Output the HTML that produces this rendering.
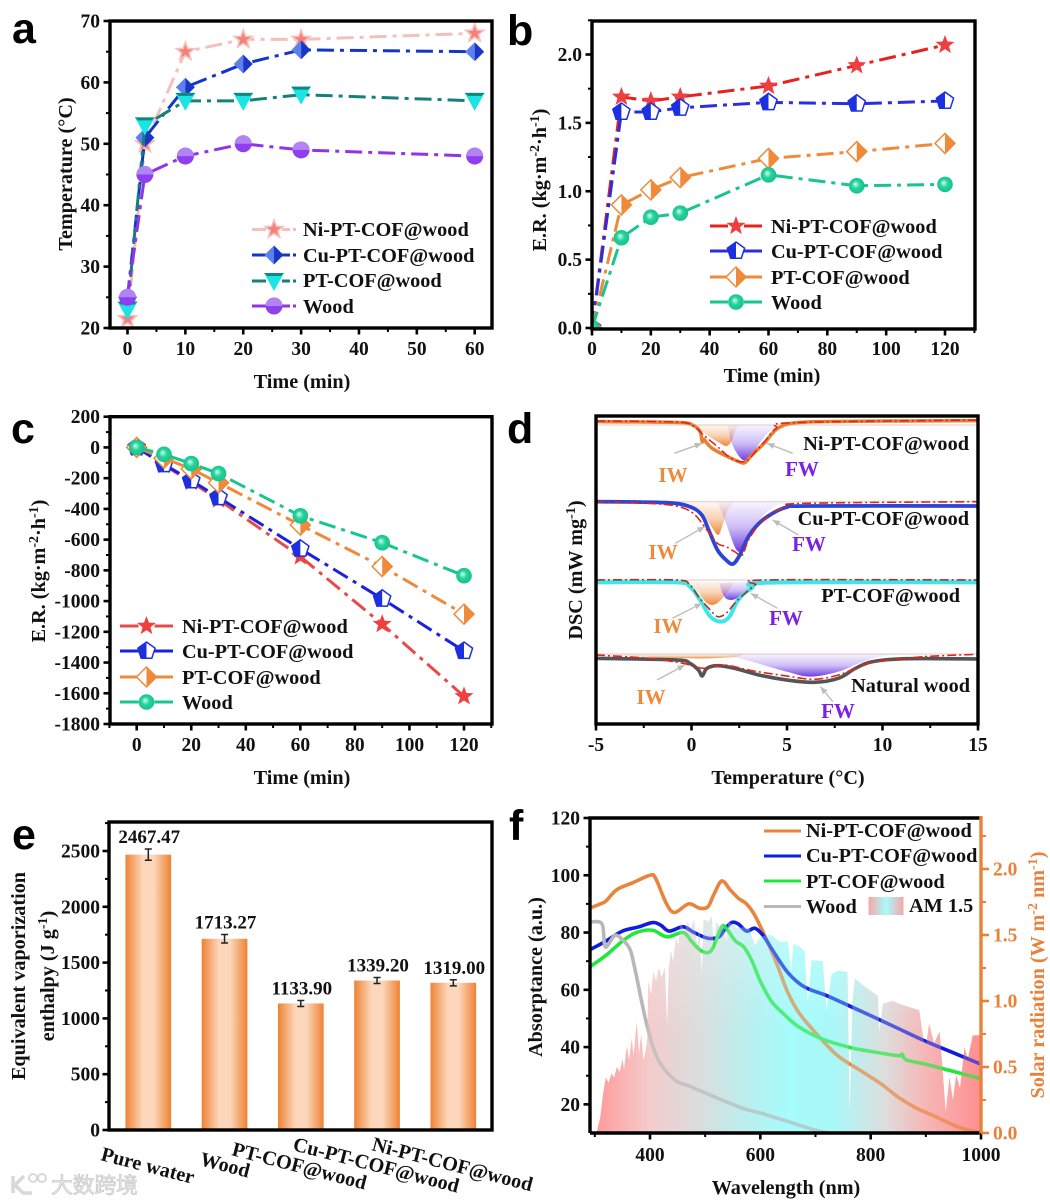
<!DOCTYPE html>
<html lang="en">
<head>
<meta charset="utf-8">
<title>Photothermal COF wood composite figure</title>
<style>
html,body{margin:0;padding:0;background:#fff;}
#figure{display:block;width:1050px;height:1204px;}
text{font-family:"Liberation Serif","Noto Serif CJK SC",serif;font-weight:700;fill:#111;}
.letter{font-family:"Liberation Sans",sans-serif;font-size:43px;fill:#000;}
.tick{font-size:19.5px;}
.title{font-size:20.2px;}
.leg{font-size:20.3px;}
.val{font-size:19px;}
.iw{font-size:21px;fill:#ee8a3a;}
.fw{font-size:21px;fill:#7a22e0;}
.sr{fill:#e8823a;}
.wm{font-family:"Noto Sans CJK SC","WenQuanYi Zen Hei",sans-serif;font-size:22px;font-weight:400;fill:#e6e6e6;stroke:#c9c9c9;stroke-width:.7;}
</style>
</head>
<body>
<svg id="figure" xmlns="http://www.w3.org/2000/svg" width="1050" height="1204" viewBox="0 0 1050 1204">
<defs>
  <linearGradient id="barGrad" x1="0" x2="1" y1="0" y2="0">
    <stop offset="0" stop-color="#ee8234"/><stop offset=".38" stop-color="#fcd7bb"/><stop offset=".62" stop-color="#fcd7bb"/><stop offset="1" stop-color="#ee8234"/>
  </linearGradient>
  <linearGradient id="iwGrad" x1="0" x2="0" y1="0" y2="1">
    <stop offset="0" stop-color="#ee8a3a" stop-opacity=".05"/><stop offset=".5" stop-color="#ee8a3a" stop-opacity=".38"/><stop offset="1" stop-color="#ee8030" stop-opacity=".95"/>
  </linearGradient>
  <linearGradient id="fwGrad" x1="0" x2="0" y1="0" y2="1">
    <stop offset="0" stop-color="#7a4be8" stop-opacity=".05"/><stop offset=".5" stop-color="#7a4be8" stop-opacity=".36"/><stop offset="1" stop-color="#6a30e0" stop-opacity=".95"/>
  </linearGradient>
  <linearGradient id="solarGrad" x1="0" x2="1" y1="0" y2="0">
    <stop offset="0" stop-color="#ff9a9a"/><stop offset=".14" stop-color="#f4cccc"/><stop offset=".26" stop-color="#dcdcdc"/><stop offset=".42" stop-color="#b4f2f2"/><stop offset=".5" stop-color="#a6fbfb"/><stop offset=".62" stop-color="#aaf8f8"/><stop offset=".75" stop-color="#dedddd"/><stop offset=".85" stop-color="#f6b8b8"/><stop offset="1" stop-color="#ff8f8f"/>
  </linearGradient>
  <linearGradient id="solarFade" gradientUnits="userSpaceOnUse" x1="0" x2="0" y1="925" y2="1030">
    <stop offset="0" stop-color="#fff" stop-opacity=".38"/><stop offset="1" stop-color="#fff" stop-opacity="0"/>
  </linearGradient>
  <linearGradient id="swatchGrad" x1="0" x2="1" y1="0" y2="0">
    <stop offset="0" stop-color="#f9a6a6"/><stop offset=".5" stop-color="#a8fbfb"/><stop offset="1" stop-color="#f9a6a6"/>
  </linearGradient>
  <radialGradient id="greenBall" cx=".5" cy=".5" r=".55" fx=".4" fy=".38">
    <stop offset="0" stop-color="#d8fff0"/><stop offset=".45" stop-color="#28d39c"/><stop offset="1" stop-color="#10c088"/>
  </radialGradient>
  <clipPath id="clipB"><rect x="592" y="21" width="383" height="308"/></clipPath>
  <clipPath id="clipF"><rect x="590" y="818" width="391" height="315"/></clipPath>
  <clipPath id="clipD"><rect x="596" y="416" width="382" height="308"/></clipPath>
</defs>

<g id="layer-a"></g>
<g id="layer-b"></g>
<g id="layer-c"></g>
<g id="layer-d"></g>
<g id="layer-e"></g>
<g id="layer-f"></g>

<!-- panel letters -->
<text class="letter" x="12" y="43">a</text>
<text class="letter" x="507" y="45">b</text>
<text class="letter" x="11" y="443">c</text>
<text class="letter" x="507" y="443">d</text>
<text class="letter" x="12" y="849">e</text>
<text class="letter" x="509" y="840">f</text>

<!-- panel a text -->
<text class="title" x="302" y="388" text-anchor="middle">Time (min)</text>
<text class="title" transform="translate(72,174) rotate(-90)" text-anchor="middle">Temperature (°C)</text>
<text class="leg" x="303" y="236">Ni-PT-COF@wood</text>
<text class="leg" x="303" y="262">Cu-PT-COF@wood</text>
<text class="leg" x="303" y="287">PT-COF@wood</text>
<text class="leg" x="303" y="313">Wood</text>

<!-- panel b text -->
<text class="title" x="772" y="382" text-anchor="middle">Time (min)</text>
<text class="title" transform="translate(546,180) rotate(-90)" text-anchor="middle">E.R. (kg·m<tspan dy="-7" font-size="14">-2</tspan><tspan dy="7">·h</tspan><tspan dy="-7" font-size="14">-1</tspan><tspan dy="7">)</tspan></text>
<text class="leg" x="771" y="233">Ni-PT-COF@wood</text>
<text class="leg" x="771" y="258">Cu-PT-COF@wood</text>
<text class="leg" x="771" y="284">PT-COF@wood</text>
<text class="leg" x="771" y="309">Wood</text>

<!-- panel c text -->
<text class="title" x="302" y="784" text-anchor="middle">Time (min)</text>
<text class="title" transform="translate(45,571) rotate(-90)" text-anchor="middle">E.R. (kg·m<tspan dy="-7" font-size="14">-2</tspan><tspan dy="7">·h</tspan><tspan dy="-7" font-size="14">-1</tspan><tspan dy="7">)</tspan></text>
<text class="leg" x="182" y="633">Ni-PT-COF@wood</text>
<text class="leg" x="182" y="658">Cu-PT-COF@wood</text>
<text class="leg" x="182" y="684">PT-COF@wood</text>
<text class="leg" x="182" y="709">Wood</text>

<!-- panel d text -->
<text class="title" x="788" y="784" text-anchor="middle">Temperature (°C)</text>
<text class="title" transform="translate(582,570) rotate(-90)" text-anchor="middle">DSC (mW mg<tspan dy="-7" font-size="14">-1</tspan><tspan dy="7">)</tspan></text>
<text class="leg" x="969" y="450" text-anchor="end">Ni-PT-COF@wood</text>
<text class="leg" x="969" y="525" text-anchor="end">Cu-PT-COF@wood</text>
<text class="leg" x="960" y="602" text-anchor="end">PT-COF@wood</text>
<text class="leg" x="970" y="692" text-anchor="end">Natural wood</text>
<text class="iw" x="673" y="482" text-anchor="middle">IW</text>
<text class="fw" x="802" y="476" text-anchor="middle">FW</text>
<text class="iw" x="663" y="559" text-anchor="middle">IW</text>
<text class="fw" x="809" y="551" text-anchor="middle">FW</text>
<text class="iw" x="668" y="633" text-anchor="middle">IW</text>
<text class="fw" x="786" y="625" text-anchor="middle">FW</text>
<text class="iw" x="651" y="704" text-anchor="middle">IW</text>
<text class="fw" x="838" y="718" text-anchor="middle">FW</text>

<!-- panel e text -->
<text class="title" transform="translate(25,976) rotate(-90)" text-anchor="middle">Equivalent vaporization</text>
<text class="title" transform="translate(54,976) rotate(-90)" text-anchor="middle">enthalpy (J g<tspan dy="-7" font-size="14">-1</tspan><tspan dy="7">)</tspan></text>
<text class="title" transform="translate(100,1160) rotate(14.5)">Pure water</text>
<text class="title" transform="translate(199,1165) rotate(14.5)">Wood</text>
<text class="title" transform="translate(231,1155) rotate(14.5)">PT-COF@wood</text>
<text class="title" transform="translate(292,1150) rotate(14.5)">Cu-PT-COF@wood</text>
<text class="title" transform="translate(371,1150) rotate(14.5)">Ni-PT-COF@wood</text>

<!-- panel f text -->
<text class="title" x="786" y="1194" text-anchor="middle">Wavelength (nm)</text>
<text class="title" transform="translate(542,977) rotate(-90)" text-anchor="middle">Absorptance (a.u.)</text>
<text class="title sr" transform="translate(1044,975) rotate(-90)" text-anchor="middle">Solar radiation (W m<tspan dy="-7" font-size="14">-2</tspan><tspan dy="7"> nm</tspan><tspan dy="-7" font-size="14">-1</tspan><tspan dy="7">)</tspan></text>
<text class="leg" x="806" y="837">Ni-PT-COF@wood</text>
<text class="leg" x="806" y="862">Cu-PT-COF@wood</text>
<text class="leg" x="806" y="888">PT-COF@wood</text>
<text class="leg" x="806" y="913">Wood</text>
<rect x="868.5" y="897" width="35" height="18" fill="url(#swatchGrad)"/>
<text class="leg" x="909" y="912">AM 1.5</text>

<!-- watermark -->
<g>
  <path d="M13 1176v17M24 1176l-9 9 8 8h9" fill="none" stroke="#d8d8d8" stroke-width="3.5"/>
  <circle cx="33" cy="1178" r="4" fill="none" stroke="#d8d8d8" stroke-width="2"/>
  <circle cx="42" cy="1178" r="4" fill="none" stroke="#d8d8d8" stroke-width="2"/>
  <text class="wm" x="51" y="1193" textLength="87">大数跨境</text>
</g>
</svg>

<script>
/* ---------- panel a data ---------- */
const aTimes = [0, 3, 10, 20, 30, 60];
const aNi = [21.5, 50, 65, 67, 67, 68];
const aCu = [25, 51, 59.2, 63, 65.3, 65];
const aPt = [23, 53, 57, 57, 58, 57];
const aWood = [25, 45, 48, 50, 49, 48];
const aXTicks = [0, 10, 20, 30, 40, 50, 60];
const aYTicks = [20, 30, 40, 50, 60, 70];

/* ---------- panel b data ---------- */
const bTimes = [0, 10, 20, 30, 60, 90, 120];
const bNi = [0, 1.69, 1.66, 1.69, 1.77, 1.92, 2.07];
const bCu = [0, 1.58, 1.58, 1.61, 1.65, 1.64, 1.66];
const bPt = [0, 0.9, 1.01, 1.1, 1.24, 1.29, 1.35];
const bWood = [0, 0.66, 0.81, 0.84, 1.12, 1.04, 1.05];
const bXTicks = [0, 20, 40, 60, 80, 100, 120];
const bYTicks = [0, 0.5, 1, 1.5, 2];
const bYLabels = ['0.0', '0.5', '1.0', '1.5', '2.0'];

/* ---------- panel c data ---------- */
const cTimes = [0, 10, 20, 30, 60, 90, 120];
const cNi = [0, -115, -225, -340, -710, -1150, -1620];
const cCu = [0, -110, -215, -325, -660, -985, -1325];
const cPt = [0, -70, -140, -230, -505, -775, -1085];
const cWood = [0, -45, -105, -170, -445, -620, -835];
const cXTicks = [0, 20, 40, 60, 80, 100, 120];
const cYTicks = [200, 0, -200, -400, -600, -800, -1000, -1200, -1400, -1600, -1800];

/* ---------- panel d data (DSC signal in arbitrary units) ---------- */
const dXTicks = [-5, 0, 5, 10, 15];
const dNiT = [-5, -2.26, -0.45, 0.09, 0.45, 0.56, 0.65, 0.81, 1.08, 1.54, 2.08, 2.53, 2.8, 3.16, 3.8, 4.52, 5.52, 8, 15];
const dNiV = [905, 904, 902, 894, 875, 845, 852, 840, 825, 810, 795, 784, 782, 805, 840, 885, 902, 906, 908];
const dNiFitT = [-5, -0.81, 0.09, 0.63, 1.36, 2.08, 2.8, 3.35, 3.89, 4.43, 5.33, 15];
const dNiFitV = [907, 904, 892, 865, 830, 795, 785, 815, 850, 885, 902, 910];
const dNiIwT = [-0.45, 0.27, 0.81, 1.36, 1.81, 2.08, 2.26, 2.53];
const dNiIwV = [895, 885, 865, 845, 832, 845, 875, 895];
const dNiFwT = [1.9, 2.08, 2.44, 2.8, 3.16, 3.62, 4.07, 4.61];
const dNiFwV = [895, 845, 805, 788, 805, 845, 875, 895];
const dCuT = [-5, -1.36, -0.09, 0.54, 0.9, 1.36, 1.81, 2.17, 2.53, 2.98, 3.53, 4.25, 4.97, 6.06, 15];
const dCuV = [665, 662, 650, 625, 580, 520, 490, 478, 505, 560, 600, 630, 648, 652, 652];
const dCuFitT = [-5, -2.26, -0.81, 0.09, 0.81, 1.36, 1.81, 2.26, 2.66, 2.98, 3.53, 4.25, 4.97, 5.88, 15];
const dCuFitV = [665, 660, 652, 630, 580, 540, 530, 515, 505, 550, 595, 630, 650, 660, 665];
const dCuIwT = [-0.45, 0.45, 0.99, 1.39, 1.63, 1.9, 2.26];
const dCuIwV = [665, 640, 595, 565, 595, 640, 665];
const dCuFwT = [1.36, 1.81, 2.26, 2.53, 2.8, 3.35, 4.07, 4.97];
const dCuFwV = [665, 600, 530, 515, 540, 595, 640, 665];
const dPtT = [-5, -0.81, -0.09, 0.45, 0.99, 1.54, 1.99, 2.44, 3.16, 4.07, 15];
const dPtV = [423, 423, 410, 370, 320, 305, 320, 370, 405, 422, 423];
const dPtFitT = [-5, -0.81, -0.09, 0.36, 0.9, 1.36, 1.81, 2.26, 2.8, 3.35, 3.89, 15];
const dPtFitV = [430, 430, 415, 380, 345, 320, 330, 360, 390, 415, 430, 430];
const dPtIwT = [-0.27, 0.27, 0.72, 1.08, 1.45, 1.9, 2.26];
const dPtIwV = [428, 400, 365, 355, 365, 395, 425];
const dPtFwT = [1.45, 1.72, 2.08, 2.53, 2.98, 3.53];
const dPtFwV = [420, 380, 370, 380, 405, 428];
const dNatT = [-5, -0.81, -0.09, 0.36, 0.56, 0.81, 1.36, 2.26, 3.53, 4.97, 6.42, 7.69, 8.59, 9.49, 11.3, 15];
const dNatV = [195, 190, 180, 160, 142, 165, 173, 165, 145, 130, 123, 135, 165, 185, 194, 193];
const dNatFitT = [-5, -2.26, -0.45, 0.63, 1.72, 3.16, 4.97, 6.42, 7.69, 8.59, 9.67, 12.2, 15];
const dNatFitV = [205, 195, 180, 165, 175, 158, 142, 132, 145, 165, 185, 200, 207];
const dNatIwT = [-5, -0.45, 2.08, 2.8];
const dNatIwV = [208, 195, 198, 208];
const dNatFwT = [1.72, 3.16, 4.97, 6.24, 7.69, 8.77, 9.86, 11.3];
const dNatFwV = [208, 185, 155, 140, 155, 180, 200, 208];
const dBaselines = [895, 665, 430, 208];

/* ---------- panel e data ---------- */
const eCategories = ['Pure water', 'Wood', 'PT-COF@wood', 'Cu-PT-COF@wood', 'Ni-PT-COF@wood'];
const eValues = [2467.47, 1713.27, 1133.9, 1339.2, 1319];
const eErrors = [50, 38, 27, 27, 27];
const eValueLabels = ['2467.47', '1713.27', '1133.90', '1339.20', '1319.00'];
const eYTicks = [0, 500, 1000, 1500, 2000, 2500];

/* ---------- panel f data ---------- */
const fXTicks = [400, 600, 800, 1000];
const fYTicks = [20, 40, 60, 80, 100, 120];
const fRightTicks = [0, 0.5, 1, 1.5, 2];
const fRightLabels = ['0.0', '0.5', '1.0', '1.5', '2.0'];
const fNiWl = [291, 310, 320, 340, 370, 400, 410, 430, 445, 470, 490, 505, 515, 530, 545, 560, 575, 590, 610, 630, 650, 670, 700, 740, 780, 820, 850, 880, 920, 960, 1000];
const fNiAbs = [88.5, 90, 91, 95, 97.5, 100, 99, 90, 87, 90, 88.5, 89, 93, 98, 95, 92, 90, 86, 78, 69, 59, 52, 45, 37, 32, 27, 22.5, 19, 15.5, 12, 10];
const fCuWl = [291, 320, 350, 380, 405, 420, 435, 460, 480, 505, 525, 535, 548, 560, 575, 590, 605, 625, 650, 680, 720, 760, 800, 850, 900, 950, 1000];
const fCuAbs = [74, 77, 80.5, 82, 83.5, 82.5, 80.5, 82, 80, 78, 78.5, 81, 83.5, 83, 80.5, 81.5, 79, 73, 66, 61, 58, 54.5, 51, 46.5, 42, 38, 34];
const fPtWl = [291, 320, 350, 375, 405, 430, 460, 475, 490, 505, 515, 530, 540, 555, 570, 585, 600, 620, 640, 670, 710, 760, 800, 850, 857, 865, 900, 950, 1000];
const fPtAbs = [68, 72, 77, 80, 80.8, 78.5, 80, 77, 74, 73, 75, 82, 81, 77, 75, 70, 63, 56, 52, 47, 43, 40, 38.5, 37, 37.5, 35.5, 34, 31.5, 29];
const fWoodWl = [291, 313, 319, 336, 350, 364, 373, 394, 415, 445, 470, 500, 567, 600, 650, 700, 725];
const fWoodAbs = [83.7, 83, 75, 79, 77.5, 74, 67, 48, 35.5, 28.5, 26.5, 24, 18.7, 17, 14, 11, 10];
const fSolarWl = [303, 310, 315, 320, 325, 330, 335, 340, 345, 350, 353, 358, 362, 367, 370, 376, 380, 384, 388, 392, 395, 397, 402, 406, 411, 416, 421, 427, 431, 434, 438, 442, 447, 451, 456, 462, 468, 474, 480, 486, 489, 494, 497, 505, 512, 516, 520, 527, 532, 538, 542, 550, 558, 570, 580, 590, 600, 610, 620, 635, 650, 656, 660, 668, 680, 686, 693, 713, 720, 729, 740, 758, 762, 767, 771, 792, 813, 816, 822, 840, 858, 888, 896, 901, 906, 915, 925, 930, 936, 943, 949, 955, 962, 970, 976, 985, 1000];
const fSolarIrr = [0, 0.12, 0.3, 0.42, 0.38, 0.45, 0.42, 0.5, 0.46, 0.56, 0.48, 0.66, 0.55, 0.72, 0.58, 0.84, 0.6, 0.75, 0.55, 0.62, 0.7, 1.15, 1.05, 1.22, 1.15, 1.25, 1.18, 1.25, 0.8, 1.25, 1.38, 1.3, 1.48, 1.42, 1.6, 1.52, 1.6, 1.55, 1.62, 1.4, 1.58, 1.2, 1.62, 1.6, 1.64, 1.35, 1.6, 1.56, 1.6, 1.45, 1.6, 1.58, 1.55, 1.56, 1.55, 1.42, 1.48, 1.5, 1.5, 1.45, 1.45, 1.22, 1.43, 1.42, 1.38, 0.98, 1.31, 1.3, 0.93, 1.2, 1.23, 1.22, 0.15, 1, 1.17, 1.1, 1.04, 0.76, 0.98, 1, 0.97, 0.93, 0.7, 0.68, 0.83, 0.68, 0.77, 0.5, 0.16, 0.42, 0.25, 0.44, 0.34, 0.65, 0.56, 0.74, 0.74];

/* ---------- helpers ---------- */
const NS = 'http://www.w3.org/2000/svg';
function mk(parent, tag, attrs) {
  const el = document.createElementNS(NS, tag);
  for (const k in attrs) el.setAttribute(k, attrs[k]);
  parent.appendChild(el);
  return el;
}
function scale(d0, p0, d1, p1) {
  return function (v) { return p0 + (v - d0) / (d1 - d0) * (p1 - p0); };
}
function linePath(xs, ys, sx, sy) {
  return xs.map(function (x, i) { return (i ? 'L' : 'M') + sx(x).toFixed(2) + ' ' + sy(ys[i]).toFixed(2); }).join('');
}
function smoothPath(xs, ys, sx, sy) {
  const p = xs.map(function (x, i) { return [sx(x), sy(ys[i])]; });
  let d = 'M' + p[0][0].toFixed(2) + ' ' + p[0][1].toFixed(2);
  for (let i = 0; i < p.length - 1; i++) {
    const a = p[Math.max(0, i - 1)], b = p[i], c = p[i + 1], e = p[Math.min(p.length - 1, i + 2)];
    const c1x = b[0] + (c[0] - a[0]) / 6, c1y = b[1] + (c[1] - a[1]) / 6;
    const c2x = c[0] - (e[0] - b[0]) / 6, c2y = c[1] - (e[1] - b[1]) / 6;
    d += 'C' + c1x.toFixed(2) + ' ' + c1y.toFixed(2) + ' ' + c2x.toFixed(2) + ' ' + c2y.toFixed(2) + ' ' + c[0].toFixed(2) + ' ' + c[1].toFixed(2);
  }
  return d;
}
function frame(g, name, x0, y0, x1, y1, color) {
  const el = mk(g, 'rect', { x: x0, y: y0, width: x1 - x0, height: y1 - y0, fill: 'none', stroke: color || '#000', 'stroke-width': 3.4 });
  
  
  return el;
}
function xTicks(g, name, sx, yBase, majors, minors, labels, labelY) {
  majors.forEach(function (v, i) {
    const t = mk(g, 'line', { x1: sx(v), x2: sx(v), y1: yBase, y2: yBase + 6.5, stroke: '#000', 'stroke-width': 2.6 });
    
    
    const l = mk(g, 'text', { x: sx(v), y: labelY, 'text-anchor': 'middle', class: 'tick' });
    l.textContent = labels[i];
    
    
  });
  minors.forEach(function (v) {
    const t = mk(g, 'line', { x1: sx(v), x2: sx(v), y1: yBase, y2: yBase + 4, stroke: '#000', 'stroke-width': 2 });
    
    
  });
}
function yTicks(g, name, sy, xBase, majors, minors, labels, labelX) {
  majors.forEach(function (v, i) {
    const t = mk(g, 'line', { x1: xBase - 6.5, x2: xBase, y1: sy(v), y2: sy(v), stroke: '#000', 'stroke-width': 2.6 });
    
    
    const l = mk(g, 'text', { x: labelX, y: sy(v) + 6.5, 'text-anchor': 'end', class: 'tick' });
    l.textContent = labels[i];
    
    
  });
  minors.forEach(function (v) {
    const t = mk(g, 'line', { x1: xBase - 4, x2: xBase, y1: sy(v), y2: sy(v), stroke: '#000', 'stroke-width': 2 });
    
    
  });
}
function pts(list, cx, cy) {
  return list.map(function (p) { return (cx + p[0]).toFixed(2) + ',' + (cy + p[1]).toFixed(2); }).join(' ');
}
function starPts(R) {
  const out = [];
  for (let i = 0; i < 10; i++) {
    const r = i % 2 ? R * 0.42 : R, a = -Math.PI / 2 + i * Math.PI / 5;
    out.push([r * Math.cos(a), r * Math.sin(a)]);
  }
  return out;
}
function marker(g, kind, cx, cy, name) {
  const m = mk(g, 'g', {});
  
  
  if (kind === 'starPale') {
    mk(m, 'polygon', { points: pts(starPts(9.5), cx, cy), fill: '#f4807a', stroke: '#f7c0bc', 'stroke-width': 1.6 });
  } else if (kind === 'starRed') {
    mk(m, 'polygon', { points: pts(starPts(10), cx, cy), fill: '#ef3f40' });
  } else if (kind === 'diamondBlue') {
    mk(m, 'polygon', { points: pts([[0, -9.5], [-9.5, 0], [0, 9.5]], cx, cy), fill: '#5c80ec' });
    mk(m, 'polygon', { points: pts([[0, -9.5], [9.5, 0], [0, 9.5]], cx, cy), fill: '#1a36c6' });
  } else if (kind === 'triCyan') {
    mk(m, 'polygon', { points: pts([[-10, -8], [10, -8], [0, 10]], cx, cy), fill: '#1ae4e4' });
    mk(m, 'polygon', { points: pts([[-10, -8], [10, -8], [6.7, -5], [-6.7, -5]], cx, cy), fill: '#11857f' });
  } else if (kind === 'circlePurple') {
    mk(m, 'circle', { cx: cx, cy: cy, r: 8.5, fill: '#8f3ef0' });
    mk(m, 'path', { d: 'M' + (cx - 8.5) + ' ' + cy + 'A8.5 8.5 0 0 1 ' + (cx + 8.5) + ' ' + cy + 'Z', fill: '#b283f2' });
  } else if (kind === 'pentagon') {
    const P = [[0, -9], [8.6, -2.8], [5.3, 7.3], [-5.3, 7.3], [-8.6, -2.8]];
    mk(m, 'polygon', { points: pts(P, cx, cy), fill: '#fff', stroke: '#1d30e0', 'stroke-width': 1.5 });
    mk(m, 'polygon', { points: pts([[0, -9], [0, 7.3], [-5.3, 7.3], [-8.6, -2.8]], cx, cy), fill: '#1d30e0' });
  } else if (kind === 'diamondOrange') {
    const D = [[0, -10], [10, 0], [0, 10], [-10, 0]];
    mk(m, 'polygon', { points: pts(D, cx, cy), fill: '#fff', stroke: '#ee8a3a', 'stroke-width': 1.5 });
    mk(m, 'polygon', { points: pts([[0, -10], [10, 0], [0, 10]], cx, cy), fill: '#ee8a3a' });
  } else if (kind === 'ballGreen') {
    mk(m, 'circle', { cx: cx, cy: cy, r: 7.8, fill: 'url(#greenBall)' });
  }
  return m;
}
function series(g, name, xs, ys, sx, sy, color, kind) {
  const l = mk(g, 'path', { d: linePath(xs, ys, sx, sy), fill: 'none', stroke: color, 'stroke-width': 3, 'stroke-dasharray': '17 6 4 6' });
  
  
  xs.forEach(function (x, i) {
    marker(g, kind, sx(x), sy(ys[i]), name + '-point');
  });
}
function legendKey(g, name, x0, x1, y, color, kind, rightDash) {
  const mid = (x0 + x1) / 2;
  const l = mk(g, 'line', { x1: x0, x2: kind ? mid - 8 : x1, y1: y, y2: y, stroke: color, 'stroke-width': 3 });
  
  
  if (kind) {
    const l2 = mk(g, 'line', { x1: mid + 8, x2: x1, y1: y, y2: y, stroke: color, 'stroke-width': 3, 'stroke-dasharray': rightDash || 'none' });
    
    
    marker(g, kind, mid, y, name + '-key-marker');
  }
}
function every(start, stop, step) {
  const out = [];
  for (let v = start; v <= stop + 1e-9; v += step) out.push(+v.toFixed(4));
  return out;
}

/* ---------- panel a ---------- */
(function () {
  const g = document.getElementById('layer-a');
  const sx = scale(0, 127.5, 60, 474.7), sy = scale(20, 328, 70, 21);
  series(g, 'a-ni', aTimes, aNi, sx, sy, '#f6bfba', 'starPale');
  series(g, 'a-cu', aTimes, aCu, sx, sy, '#1436c8', 'diamondBlue');
  series(g, 'a-pt', aTimes, aPt, sx, sy, '#14807a', 'triCyan');
  series(g, 'a-wood', aTimes, aWood, sx, sy, '#9233ea', 'circlePurple');
  frame(g, 'a', 110, 21, 492, 328);
  xTicks(g, 'a', sx, 328, aXTicks, every(5, 55, 10), aXTicks.map(String), 355);
  yTicks(g, 'a', sy, 110, aYTicks, every(25, 65, 10), aYTicks.map(String), 100);
  legendKey(g, 'a-legend-ni', 252, 296, 229.5, '#f6bfba', 'starPale', '8 3 3 30');
  legendKey(g, 'a-legend-cu', 252, 296, 255, '#1436c8', 'diamondBlue', '8 3 3 30');
  legendKey(g, 'a-legend-pt', 252, 296, 281, '#14807a', 'triCyan', '8 3 3 30');
  legendKey(g, 'a-legend-wood', 252, 296, 306, '#9233ea', 'circlePurple', '8 3 3 30');
})();

/* ---------- panel b ---------- */
(function () {
  const g0 = document.getElementById('layer-b');
  const g = mk(g0, 'g', { 'clip-path': 'url(#clipB)' });
  
  
  const sx = scale(0, 592, 120, 945), sy = scale(0, 328, 2, 54.5);
  series(g, 'b-ni', bTimes, bNi, sx, sy, '#e8211f', 'starRed');
  series(g, 'b-cu', bTimes, bCu, sx, sy, '#2a2ee0', 'pentagon');
  series(g, 'b-pt', bTimes, bPt, sx, sy, '#ee8a3a', 'diamondOrange');
  series(g, 'b-wood', bTimes, bWood, sx, sy, '#18c48f', 'ballGreen');
  frame(g0, 'b', 592, 21, 975, 329);
  xTicks(g0, 'b', sx, 329, bXTicks, every(10, 130, 20), bXTicks.map(String), 355);
  yTicks(g0, 'b', sy, 592, bYTicks, every(0.25, 2.25, 0.5), bYLabels, 582);
  legendKey(g0, 'b-legend-ni', 710, 762, 226, '#e8211f', 'starRed');
  legendKey(g0, 'b-legend-cu', 710, 762, 251, '#2a2ee0', 'pentagon');
  legendKey(g0, 'b-legend-pt', 710, 762, 277, '#ee8a3a', 'diamondOrange');
  legendKey(g0, 'b-legend-wood', 710, 762, 302, '#18c48f', 'ballGreen');
})();

/* ---------- panel c ---------- */
(function () {
  const g = document.getElementById('layer-c');
  const sx = scale(0, 136.7, 120, 464), sy = scale(200, 416.7, -1800, 724);
  series(g, 'c-ni', cTimes, cNi, sx, sy, '#e84a4a', 'starRed');
  series(g, 'c-cu', cTimes, cCu, sx, sy, '#1a22e0', 'pentagon');
  series(g, 'c-pt', cTimes, cPt, sx, sy, '#ee8a3a', 'diamondOrange');
  series(g, 'c-wood', cTimes, cWood, sx, sy, '#18c48f', 'ballGreen');
  frame(g, 'c', 110, 416.7, 492, 724);
  xTicks(g, 'c', sx, 724, cXTicks, every(-10, 130, 20), cXTicks.map(String), 751);
  yTicks(g, 'c', sy, 110, cYTicks, every(-1700, 100, 200), cYTicks.map(String), 100);
  legendKey(g, 'c-legend-ni', 120, 173, 626, '#e84a4a', 'starRed');
  legendKey(g, 'c-legend-cu', 120, 173, 651, '#1a22e0', 'pentagon');
  legendKey(g, 'c-legend-pt', 120, 173, 677, '#ee8a3a', 'diamondOrange');
  legendKey(g, 'c-legend-wood', 120, 173, 702, '#18c48f', 'ballGreen');
})();

/* ---------- panel d ---------- */
(function () {
  const g0 = document.getElementById('layer-d');
  const g = mk(g0, 'g', { 'clip-path': 'url(#clipD)' });
  
  
  const sx = scale(-5, 596, 15, 978), sy = scale(0, 723.3, 922, 416);
  function area(name, ts, vs, fill) {
    const el = mk(g, 'path', { d: smoothPath(ts, vs, sx, sy) + 'Z', fill: fill });
    
    
  }
  function curve(name, ts, vs, color, width, dash) {
    const el = mk(g, 'path', { d: smoothPath(ts, vs, sx, sy), fill: 'none', stroke: color, 'stroke-width': width, 'stroke-dasharray': dash || 'none' });
    
    
  }
  dBaselines.forEach(function (b) {
    const el = mk(g, 'line', { x1: sx(-5), x2: sx(15), y1: sy(b), y2: sy(b), stroke: '#e9dcdc', 'stroke-width': 1.5 });
    
    
  });
  area('d-ni-iw-peak', dNiIwT, dNiIwV, 'url(#iwGrad)');
  area('d-ni-fw-peak', dNiFwT, dNiFwV, 'url(#fwGrad)');
  area('d-cu-iw-peak', dCuIwT, dCuIwV, 'url(#iwGrad)');
  area('d-cu-fw-peak', dCuFwT, dCuFwV, 'url(#fwGrad)');
  area('d-pt-iw-peak', dPtIwT, dPtIwV, 'url(#iwGrad)');
  area('d-pt-fw-peak', dPtFwT, dPtFwV, 'url(#fwGrad)');
  area('d-natural-iw-peak', dNatIwT, dNatIwV, 'url(#iwGrad)');
  area('d-natural-fw-peak', dNatFwT, dNatFwV, 'url(#fwGrad)');
  curve('d-ni-curve', dNiT, dNiV, '#e8812f', 3.5);
  curve('d-cu-curve', dCuT, dCuV, '#2b45d8', 3.8);
  curve('d-pt-curve', dPtT, dPtV, '#3de6e8', 4);
  curve('d-natural-curve', dNatT, dNatV, '#555', 3.6);
  curve('d-ni-fit', dNiFitT, dNiFitV, '#e2231a', 1.6, '9 3 2 3');
  curve('d-cu-fit', dCuFitT, dCuFitV, '#e2231a', 1.6, '9 3 2 3');
  curve('d-pt-fit', dPtFitT, dPtFitV, '#a8342a', 1.6, '9 3 2 3');
  curve('d-natural-fit', dNatFitT, dNatFitV, '#e2231a', 1.6, '9 3 2 3');
  frame(g0, 'd', 596, 416, 978, 724);
  xTicks(g0, 'd', sx, 724, dXTicks, every(-2.5, 12.5, 5), dXTicks.map(String), 751);
  const annotations = [
    ['d-arrow-ni-iw', -0.9, 0.55, 810, 840], ['d-arrow-ni-fw', 5.3, 3.95, 810, 840],
    ['d-arrow-cu-iw', -0.85, 0.7, 540, 590], ['d-arrow-cu-fw', 5.6, 4.25, 565, 610],
    ['d-arrow-pt-iw', -1.0, 0.55, 315, 360], ['d-arrow-pt-fw', 4.5, 3.1, 345, 390],
    ['d-arrow-natural-iw', -1.8, -0.35, 130, 175], ['d-arrow-natural-fw', 7.4, 6.75, 65, 110]
  ];
  annotations.forEach(function (a) {
    const x1 = sx(a[1]), x2 = sx(a[2]), y1 = sy(a[3]), y2 = sy(a[4]);
    const l = mk(g0, 'line', { x1: x1, y1: y1, x2: x2, y2: y2, stroke: '#bdbdbd', 'stroke-width': 1.4 });
    
    
    const ang = Math.atan2(y2 - y1, x2 - x1), s = 8;
    const h = mk(g0, 'polygon', { fill: '#bdbdbd', points:
      x2 + ',' + y2 + ' ' +
      (x2 - s * Math.cos(ang - 0.4)) + ',' + (y2 - s * Math.sin(ang - 0.4)) + ' ' +
      (x2 - s * Math.cos(ang + 0.4)) + ',' + (y2 - s * Math.sin(ang + 0.4)) });
    
    
  });
})();

/* ---------- panel e ---------- */
(function () {
  const g = document.getElementById('layer-e');
  const sy = scale(0, 1130, 2500, 851);
  const sx = function (i) { return 148.3 + i * 76.25; };
  const bw = 45.7;
  eValues.forEach(function (v, i) {
    const r = mk(g, 'rect', { x: sx(i) - bw / 2, y: sy(v), width: bw, height: sy(0) - sy(v), fill: 'url(#barGrad)' });
    
    
    const hi = sy(v + eErrors[i]), lo = sy(v - eErrors[i]), c = sx(i);
    const eb = mk(g, 'path', { d: 'M' + (c - 3.5) + ' ' + hi + 'H' + (c + 3.5) + 'M' + c + ' ' + hi + 'V' + lo + 'M' + (c - 3.5) + ' ' + lo + 'H' + (c + 3.5), fill: 'none', stroke: '#222', 'stroke-width': 1.5 });
    
    
    const t = mk(g, 'text', { x: c + 1, y: hi - 6, 'text-anchor': 'middle', class: 'val' });
    t.textContent = eValueLabels[i];
    
    
  });
  frame(g, 'e', 109, 822, 492, 1130);
  yTicks(g, 'e', sy, 109, eYTicks, every(250, 2750, 500), eYTicks.map(String), 100);
})();

/* ---------- panel f ---------- */
(function () {
  const g0 = document.getElementById('layer-f');
  const g = mk(g0, 'g', { 'clip-path': 'url(#clipF)' });
  
  
  const sx = scale(400, 650, 1000, 981), sy = scale(10, 1133, 120, 818), sr = scale(0, 1133, 2, 869);
  const solarD = linePath(fSolarWl, fSolarIrr, sx, sr) + 'L' + sx(1000) + ' ' + sr(0) + 'L' + sx(303) + ' ' + sr(0) + 'Z';
  const s1 = mk(g, 'path', { d: solarD, fill: 'url(#solarGrad)' });
  
  
  const s0 = mk(g, 'path', { d: solarD, fill: 'url(#solarFade)' });
  
  
  function curve(name, xs, ys, color) {
    const el = mk(g, 'path', { d: smoothPath(xs, ys, sx, sy), fill: 'none', stroke: color, 'stroke-width': 3.6 });
    
    
  }
  curve('f-ni-curve', fNiWl, fNiAbs, '#e8843c');
  curve('f-cu-curve', fCuWl, fCuAbs, '#0c1ce0');
  curve('f-pt-curve', fPtWl, fPtAbs, '#1ee83a');
  curve('f-wood-curve', fWoodWl, fWoodAbs, '#b8b8b8');
  const s2 = mk(g, 'path', { d: solarD, fill: 'url(#solarGrad)', opacity: .34 });
  
  
  const fr = mk(g0, 'path', { d: 'M590 1133V818H981M590 1133H981', fill: 'none', stroke: '#000', 'stroke-width': 3.4 });
  
  
  const ra = mk(g0, 'line', { x1: 981, x2: 981, y1: 816, y2: 1134.5, stroke: '#e8823a', 'stroke-width': 3.4 });
  
  
  xTicks(g0, 'f', sx, 1133, fXTicks, [300, 500, 700, 900], fXTicks.map(String), 1161);
  yTicks(g0, 'f', sy, 590, fYTicks, every(30, 110, 20), fYTicks.map(String), 580);
  fRightTicks.forEach(function (v, i) {
    const t = mk(g0, 'line', { x1: 981, x2: 989, y1: sr(v), y2: sr(v), stroke: '#e8823a', 'stroke-width': 2.6 });
    
    
    const l = mk(g0, 'text', { x: 993, y: sr(v) + 6.5, class: 'tick sr' });
    l.textContent = fRightLabels[i];
    
    
  });
  every(0.25, 2.25, 0.5).forEach(function (v) {
    const t = mk(g0, 'line', { x1: 981, x2: 986, y1: sr(v), y2: sr(v), stroke: '#e8823a', 'stroke-width': 2 });
    
    
  });
  legendKey(g0, 'f-legend-ni', 764, 801, 831, '#e8843c');
  legendKey(g0, 'f-legend-cu', 764, 801, 856, '#0c1ce0');
  legendKey(g0, 'f-legend-pt', 764, 801, 881, '#1ee83a');
  legendKey(g0, 'f-legend-wood', 764, 801, 906.5, '#b8b8b8');
})();
</script>
</body>
</html>
